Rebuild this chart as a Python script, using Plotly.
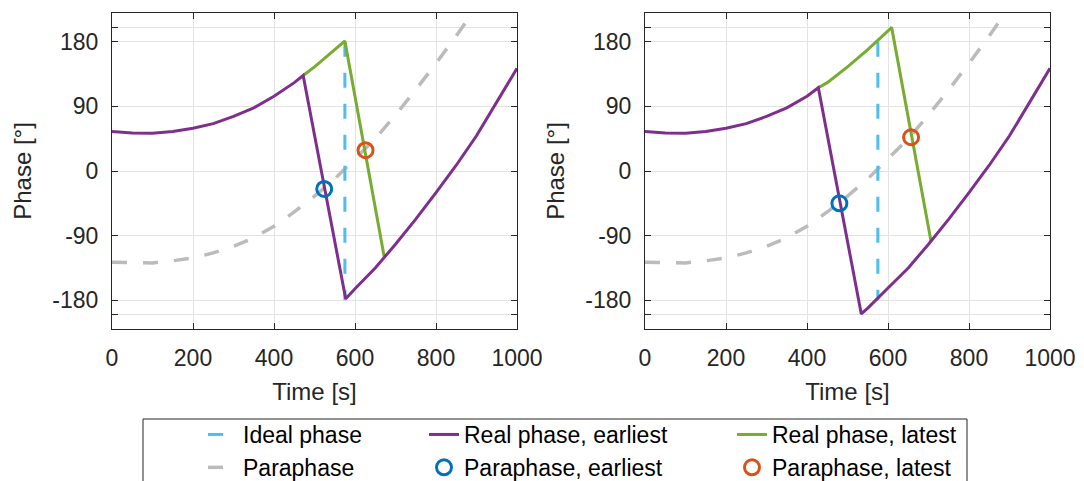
import plotly.graph_objects as go

# ---------------- data ----------------
# Left panel
t_earliest_L = [0, 50, 100, 150, 200, 250, 300, 350, 400, 450, 472,
                577, 600, 650, 700, 750, 800, 850, 900, 950, 1000]
p_earliest_L = [55, 53, 52.5, 55, 59.5, 66, 76, 88, 104, 123, 133,
                -178, -164, -135, -102, -67, -30, 8, 49, 95, 143]
t_latest_L = [472, 500, 550, 575, 672]
p_latest_L = [133, 145, 169, 181, -119]

# Right panel
t_earliest_R = [0, 50, 100, 150, 200, 250, 300, 350, 400, 428,
                534, 550, 600, 650, 700, 750, 800, 850, 900, 950, 1000]
p_earliest_R = [55, 53, 52.5, 55, 59.5, 66, 76, 88, 104, 116,
                -199, -191, -163, -135, -102, -67, -30, 8, 49, 95, 143]
t_latest_R = [428, 450, 500, 550, 600, 609, 706]
p_latest_R = [116, 123, 145, 169, 195, 200, -97]

# Paraphase (same in both panels)
t_para = [0, 50, 100, 150, 200, 250, 300, 350, 400, 450, 500, 550,
          600, 650, 700, 750, 800, 850, 900]
p_para = [-127, -128, -128, -125, -121, -114, -105, -93, -77, -57, -35, -11,
          17, 45, 78, 113, 150, 188, 229]

# Ideal phase (vertical jump)
t_ideal = [575, 575]
p_ideal = [180, -180]

# Paraphase markers
mark_earliest_L = ([524], [-25])
mark_latest_L = ([626], [29])
mark_earliest_R = ([480], [-45])
mark_latest_R = ([657], [47])

x_ticks = [0, 200, 400, 600, 800, 1000]
y_ticks = [-200, -180, -90, 0, 90, 180, 200]
y_ticktext = ["", "-180", "-90", "0", "90", "180", ""]

# ---------------- styling ----------------
C_IDEAL = "#4DBEEE"
C_EARLY = "#7E2F8E"
C_LATE = "#77AC30"
C_PARA = "#BBBBBB"
C_MEARLY = "#0072BD"
C_MLATE = "#D95319"
AX = "#262626"
GRID = "#E3E3E3"
FONT = "Liberation Sans, Arial, Helvetica, sans-serif"
DASH = "15px,16px"

fig = go.Figure()

panels = [
    ("x", "y", t_earliest_L, p_earliest_L, t_latest_L, p_latest_L, mark_earliest_L, mark_latest_L, True),
    ("x2", "y2", t_earliest_R, p_earliest_R, t_latest_R, p_latest_R, mark_earliest_R, mark_latest_R, False),
]

for xa, ya, te, pe, tl, pl, me, ml, show in panels:
    fig.add_trace(go.Scatter(x=t_para, y=p_para, mode="lines", name="Paraphase",
                             line=dict(color=C_PARA, width=3.5, dash=DASH),
                             xaxis=xa, yaxis=ya, showlegend=show,
                             legend="legend", legendrank=2))
    fig.add_trace(go.Scatter(x=t_ideal, y=p_ideal, mode="lines", name="Ideal phase",
                             line=dict(color=C_IDEAL, width=3, dash=DASH),
                             xaxis=xa, yaxis=ya, showlegend=show,
                             legend="legend", legendrank=1))
    fig.add_trace(go.Scatter(x=tl, y=pl, mode="lines", name="Real phase, latest",
                             line=dict(color=C_LATE, width=3),
                             xaxis=xa, yaxis=ya, showlegend=show,
                             legend="legend3", legendrank=1))
    fig.add_trace(go.Scatter(x=te, y=pe, mode="lines", name="Real phase, earliest",
                             line=dict(color=C_EARLY, width=3),
                             xaxis=xa, yaxis=ya, showlegend=show,
                             legend="legend2", legendrank=1))
    fig.add_trace(go.Scatter(x=me[0], y=me[1], mode="markers", name="Paraphase, earliest",
                             marker=dict(symbol="circle-open", size=15, color=C_MEARLY,
                                         line=dict(width=3, color=C_MEARLY)),
                             xaxis=xa, yaxis=ya, showlegend=show,
                             legend="legend2", legendrank=2))
    fig.add_trace(go.Scatter(x=ml[0], y=ml[1], mode="markers", name="Paraphase, latest",
                             marker=dict(symbol="circle-open", size=15, color=C_MLATE,
                                         line=dict(width=3, color=C_MLATE)),
                             xaxis=xa, yaxis=ya, showlegend=show,
                             legend="legend3", legendrank=2))

W, H = 1084, 481
ML, MR, MT, MB = 112, 34, 13, 152
PW = W - ML - MR
PH = H - MT - MB


def px_x(p):
    return (p - ML) / PW


def px_y(p):
    return (H - MB - p) / PH


xaxis_common = dict(range=[0, 1000], tickvals=x_ticks, showgrid=True, gridcolor=GRID,
                    gridwidth=1, zeroline=False, showline=True, linecolor=AX, linewidth=1,
                    mirror="ticks", ticks="inside", ticklen=6, tickcolor=AX,
                    tickfont=dict(family=FONT, size=23, color=AX),
                    title=dict(text="Time [s]", font=dict(family=FONT, size=24, color=AX), standoff=13),
                    ticklabelstandoff=8)
yaxis_common = dict(range=[-220, 220], tickvals=y_ticks, ticktext=y_ticktext, showgrid=True,
                    gridcolor=GRID, gridwidth=1, zeroline=False, showline=True, linecolor=AX,
                    linewidth=1, mirror="ticks", ticks="inside", ticklen=6, tickcolor=AX,
                    tickfont=dict(family=FONT, size=23, color=AX),
                    title=dict(text="Phase [°]", font=dict(family=FONT, size=24, color=AX), standoff=13),
                    ticklabelstandoff=8)

legend_common = dict(orientation="v", xanchor="left", yanchor="top", bgcolor="rgba(0,0,0,0)",
                     borderwidth=0, font=dict(family=FONT, size=23, color="#000000"),
                     itemclick=False, itemdoubleclick=False, tracegroupgap=0)

legend_top = px_y(413)

fig.update_layout(
    width=W, height=H,
    paper_bgcolor="white", plot_bgcolor="white",
    margin=dict(l=ML, r=MR, t=MT, b=MB, autoexpand=False),
    xaxis=dict(domain=[0, (517 - ML) / PW], anchor="y", **xaxis_common),
    yaxis=dict(domain=[0, 1], anchor="x", **yaxis_common),
    xaxis2=dict(domain=[(645 - ML) / PW, 1], anchor="y2", **xaxis_common),
    yaxis2=dict(domain=[0, 1], anchor="x2", **yaxis_common),
    legend=dict(x=px_x(203), y=legend_top, **legend_common),
    legend2=dict(x=px_x(424), y=legend_top, **legend_common),
    legend3=dict(x=px_x(732), y=legend_top, **legend_common),
    shapes=[dict(type="rect", xref="paper", yref="paper",
                 x0=px_x(143), x1=px_x(967), y0=px_y(419), y1=px_y(486),
                 line=dict(color=AX, width=1), fillcolor="rgba(0,0,0,0)", layer="above")],
    showlegend=True,
)

fig.write_html("out.html",
               config={"displayModeBar": False},
               post_script="document.body.style.margin='0';document.body.style.overflow='hidden';")
